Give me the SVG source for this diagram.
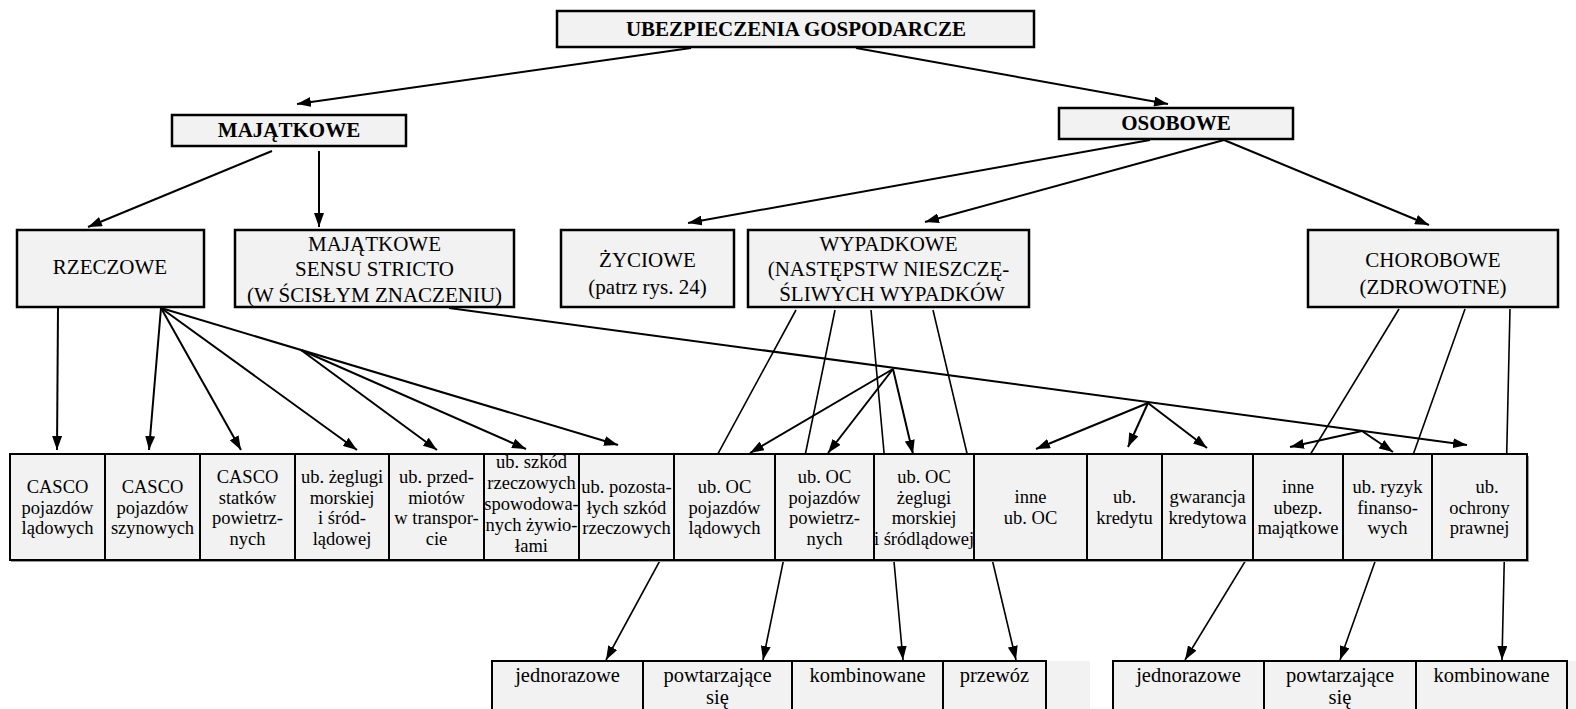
<svg xmlns="http://www.w3.org/2000/svg" width="1576" height="709" viewBox="0 0 1576 709" font-family="'Liberation Serif', 'DejaVu Serif', serif">
<style>
.box{fill:#f2f2f2;stroke:#000;stroke-width:2.5}
.cell{fill:#f2f2f2;stroke:#000;stroke-width:2}
text{font-family:'Liberation Serif','DejaVu Serif',serif;fill:#000;text-anchor:middle}
.t{font-size:21px}
.b{font-weight:bold}
.s{font-size:18.5px}
.bt{font-size:20.5px}
.c{stroke:#000;stroke-width:2;fill:none}
.a{stroke:#000;stroke-width:2;fill:none;marker-end:url(#ah)}
.a2{stroke:#000;stroke-width:1.6;fill:none;marker-end:url(#ah)}
</style>
<defs>
<marker id="ah" markerUnits="userSpaceOnUse" viewBox="0 0 14 10" refX="14" refY="5" markerWidth="14" markerHeight="10" orient="auto">
<path d="M0,0 L14,5 L0,10 z" fill="#000"/>
</marker>
</defs>
<rect width="1576" height="709" fill="#fff"/>

<g id="connectors">
<line class="a" x1="691" y1="48" x2="297" y2="104"/>
<line class="a" x1="856" y1="48" x2="1168" y2="104"/>
<line class="a" x1="272" y1="151" x2="88" y2="227"/>
<line class="a" x1="319" y1="151" x2="319" y2="227"/>
<line class="a" x1="1150" y1="140" x2="688" y2="223"/>
<line class="a" x1="1224" y1="140" x2="925" y2="222"/>
<line class="a" x1="1224" y1="140" x2="1429" y2="225"/>
<line class="a" x1="58" y1="308" x2="57" y2="450"/>
<line class="a" x1="161" y1="308" x2="149" y2="450"/>
<line class="a" x1="161" y1="308" x2="241" y2="450"/>
<line class="a" x1="161" y1="308" x2="357" y2="450"/>
<line class="a" x1="161" y1="308" x2="618" y2="445"/>
<line class="a" x1="301" y1="350" x2="437" y2="450"/>
<line class="a" x1="301" y1="350" x2="526" y2="449"/>
<line class="a" x1="449" y1="308" x2="1467" y2="445"/>
<line class="a" x1="893" y1="369" x2="750" y2="453"/>
<line class="a" x1="893" y1="369" x2="828" y2="453"/>
<line class="a" x1="893" y1="369" x2="913" y2="454"/>
<line class="a" x1="1148" y1="403" x2="1036" y2="449"/>
<line class="a" x1="1148" y1="403" x2="1128" y2="447"/>
<line class="a" x1="1148" y1="403" x2="1207" y2="448"/>
<line class="a" x1="1362" y1="431" x2="1290" y2="447"/>
<line class="a" x1="1362" y1="431" x2="1393" y2="452"/>
<line class="a2" x1="796" y1="310" x2="606" y2="660"/>
<line class="a2" x1="835" y1="310" x2="763" y2="660"/>
<line class="a2" x1="871" y1="310" x2="903" y2="660"/>
<line class="a2" x1="933" y1="310" x2="1016" y2="660"/>
<line class="a2" x1="1399" y1="309" x2="1185" y2="660"/>
<line class="a2" x1="1465" y1="309" x2="1340" y2="660"/>
<line class="a2" x1="1510" y1="309" x2="1502" y2="660"/>
</g>

<g id="n-root"><rect class="box" x="557" y="11" width="477" height="36"/><text class="t b" x="796" y="36">UBEZPIECZENIA GOSPODARCZE</text></g>
<g id="n-majatkowe"><rect class="box" x="172" y="115" width="234" height="31"/><text class="t b" x="289" y="137">MAJĄTKOWE</text></g>
<g id="n-osobowe"><rect class="box" x="1059" y="108" width="234" height="31"/><text class="t b" x="1176" y="130">OSOBOWE</text></g>
<g id="n-rzeczowe"><rect class="box" x="17" y="230" width="187" height="77"/><text class="t" x="110" y="274">RZECZOWE</text></g>
<g id="n-stricto"><rect class="box" x="235" y="230" width="279" height="77"/><text class="t" x="374.5" y="251">MAJĄTKOWE</text><text class="t" x="374.5" y="276">SENSU STRICTO</text><text class="t" x="374.5" y="302">(W ŚCISŁYM ZNACZENIU)</text></g>
<g id="n-zyciowe"><rect class="box" x="561" y="230" width="173" height="77"/><text class="t" x="647.5" y="267">ŻYCIOWE</text><text class="t" x="647.5" y="294">(patrz rys. 24)</text></g>
<g id="n-wypadkowe"><rect class="box" x="748" y="230" width="281" height="77"/><text class="t" x="888.5" y="251">WYPADKOWE</text><text class="t" x="888.5" y="276">(NASTĘPSTW NIESZCZĘ-</text><text class="t" x="892" y="301">ŚLIWYCH WYPADKÓW</text></g>
<g id="n-chorobowe"><rect class="box" x="1308" y="230" width="250" height="77"/><text class="t" x="1433" y="267">CHOROBOWE</text><text class="t" x="1433" y="294">(ZDROWOTNE)</text></g>

<g id="row">
<rect x="11" y="456" width="1518" height="106" fill="#999"/>
<rect class="cell" x="10" y="454" width="1517" height="106"/>
<g class="c">
<line x1="105" y1="454" x2="105" y2="560"/><line x1="200" y1="454" x2="200" y2="560"/><line x1="295" y1="454" x2="295" y2="560"/><line x1="389" y1="454" x2="389" y2="560"/><line x1="484" y1="454" x2="484" y2="560"/><line x1="579" y1="454" x2="579" y2="560"/><line x1="674" y1="454" x2="674" y2="560"/><line x1="775" y1="454" x2="775" y2="560"/><line x1="874" y1="454" x2="874" y2="560"/><line x1="974" y1="454" x2="974" y2="560"/><line x1="1087" y1="454" x2="1087" y2="560"/><line x1="1162" y1="454" x2="1162" y2="560"/><line x1="1253" y1="454" x2="1253" y2="560"/><line x1="1343" y1="454" x2="1343" y2="560"/><line x1="1432" y1="454" x2="1432" y2="560"/>
</g>
</g>
<g id="n-r1"><text class="s" x="57.5" y="493">CASCO</text><text class="s" x="57.5" y="514">pojazdów</text><text class="s" x="57.5" y="534">lądowych</text></g>
<g id="n-r2"><text class="s" x="152.5" y="493">CASCO</text><text class="s" x="152.5" y="514">pojazdów</text><text class="s" x="152.5" y="534">szynowych</text></g>
<g id="n-r3"><text class="s" x="247.5" y="483">CASCO</text><text class="s" x="247.5" y="503.5">statków</text><text class="s" x="247.5" y="524">powietrz-</text><text class="s" x="247.5" y="544.5">nych</text></g>
<g id="n-r4"><text class="s" x="342" y="483">ub. żeglugi</text><text class="s" x="342" y="503.5">morskiej</text><text class="s" x="342" y="524">i śród-</text><text class="s" x="342" y="544.5">lądowej</text></g>
<g id="n-r5"><text class="s" x="436.5" y="483">ub. przed-</text><text class="s" x="436.5" y="503.5">miotów</text><text class="s" x="436.5" y="524">w transpor-</text><text class="s" x="436.5" y="544.5">cie</text></g>
<g id="n-r6"><text class="s" x="531.5" y="468">ub. szkód</text><text class="s" x="531.5" y="489">rzeczowych</text><text class="s" x="531.5" y="510">spowodowa-</text><text class="s" x="531.5" y="531">nych żywio-</text><text class="s" x="531.5" y="552">łami</text></g>
<g id="n-r7"><text class="s" x="626.5" y="493">ub. pozosta-</text><text class="s" x="626.5" y="514">łych szkód</text><text class="s" x="626.5" y="534">rzeczowych</text></g>
<g id="n-r8"><text class="s" x="724.5" y="493">ub. OC</text><text class="s" x="724.5" y="514">pojazdów</text><text class="s" x="724.5" y="534">lądowych</text></g>
<g id="n-r9"><text class="s" x="824.5" y="483">ub. OC</text><text class="s" x="824.5" y="503.5">pojazdów</text><text class="s" x="824.5" y="524">powietrz-</text><text class="s" x="824.5" y="544.5">nych</text></g>
<g id="n-r10"><text class="s" x="924" y="483">ub. OC</text><text class="s" x="924" y="503.5">żeglugi</text><text class="s" x="924" y="524">morskiej</text><text class="s" x="924" y="544.5">i śródlądowej</text></g>
<g id="n-r11"><text class="s" x="1030.5" y="503">inne</text><text class="s" x="1030.5" y="524">ub. OC</text></g>
<g id="n-r12"><text class="s" x="1124.5" y="503">ub.</text><text class="s" x="1124.5" y="524">kredytu</text></g>
<g id="n-r13"><text class="s" x="1207.5" y="503">gwarancja</text><text class="s" x="1207.5" y="524">kredytowa</text></g>
<g id="n-r14"><text class="s" x="1298" y="493">inne</text><text class="s" x="1298" y="514">ubezp.</text><text class="s" x="1298" y="534">majątkowe</text></g>
<g id="n-r15"><text class="s" x="1387.5" y="493">ub. ryzyk</text><text class="s" x="1387.5" y="514">finanso-</text><text class="s" x="1387.5" y="534">wych</text></g>
<g id="n-r16"><text class="s" x="1487" y="493">ub.</text><text class="s" x="1479.5" y="514">ochrony</text><text class="s" x="1479.5" y="534">prawnej</text></g>

<g id="n-bottom1">
<rect x="492" y="661" width="598" height="60" fill="#f2f2f2"/>
<path class="c" d="M492,720 V661 H1046 V720 M643,661 V720 M792,661 V720 M943,661 V720"/>
<text class="bt" x="567.5" y="682">jednorazowe</text>
<text class="bt" x="717.5" y="682">powtarzające</text><text class="bt" x="717.5" y="704">się</text>
<text class="bt" x="867.5" y="682">kombinowane</text>
<text class="bt" x="994.5" y="682">przewóz</text>
</g>
<g id="n-bottom2">
<rect x="1113" y="661" width="463" height="60" fill="#f2f2f2"/>
<path class="c" d="M1113,720 V661 H1567 V720 M1264,661 V720 M1416,661 V720"/>
<text class="bt" x="1188.5" y="682">jednorazowe</text>
<text class="bt" x="1340" y="682">powtarzające</text><text class="bt" x="1340" y="704">się</text>
<text class="bt" x="1491.5" y="682">kombinowane</text>
</g>
</svg>
